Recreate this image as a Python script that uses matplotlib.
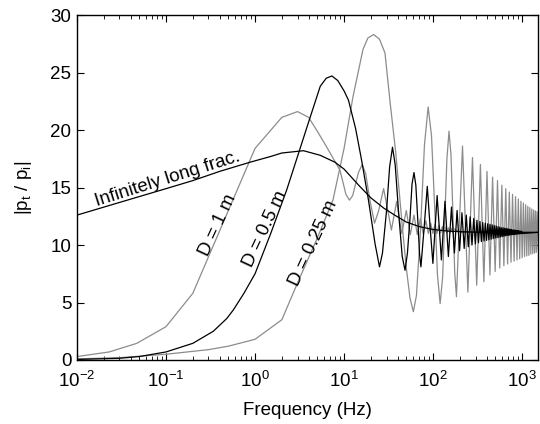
import numpy as np
import matplotlib
matplotlib.use('Agg')
import matplotlib.pyplot as plt

plt.rcParams['font.family'] = ['Liberation Sans', 'DejaVu Sans']

# infinitely long fracture (smooth black curve)
inf_f = [0.01, 0.03, 0.1, 0.2, 0.4, 0.88, 1.5, 2.0, 3.5, 5.4, 7.9, 10, 15, 20, 28, 37,
         50, 70, 100, 150, 300, 1520]
inf_v = [12.6, 13.7, 14.9, 15.6, 16.4, 17.2, 17.7, 18.0, 18.2, 17.8, 17.2, 16.6, 15.1, 14.1,
         13.2, 12.6, 12.0, 11.6, 11.35, 11.2, 11.12, 11.1]

# D = 1 m (gray)
d1_f = [0.01, 0.023, 0.047, 0.1, 0.2, 1.0, 2.0, 3.0, 4.0, 5.0, 6.4, 9.0, 10.5, 11.5, 12.5,
        14.5, 16, 17.5, 19.5, 22, 24.5, 27.8, 31, 34, 36.5, 39, 41.5, 44.5, 50, 55.5, 61,
        66.5, 72, 77.5, 83, 88.5, 94, 99.5, 105, 110.5, 116, 121.5, 127, 132.5, 138, 143.5,
        149, 154.5, 160, 165.5, 171, 200, 1520]
d1_v = [0.3, 0.7, 1.45, 2.9, 5.8, 18.4, 21.1, 21.6, 21.1, 19.9, 18.5, 16.5, 14.4, 13.9, 14.3,
        16.3, 17.0, 16.2, 13.9, 11.9, 13.0, 14.9, 13.0, 11.3, 12.6, 13.8, 12.4, 11.0, 13.0, 10.9, 12.6,
        10.9, 12.3, 10.95, 12.1, 11.0, 11.9, 11.0, 11.8, 11.0, 11.7, 11.05, 11.6, 11.05, 11.55, 11.05,
        11.5, 11.05, 11.45, 11.1, 11.4, 11.1, 11.1]

# D = 0.5 m (black), low frequencies and first oscillations
d05_f = [0.01, 0.03, 0.05, 0.1, 0.2, 0.34, 0.48, 0.57, 0.75, 1.0, 1.5, 2.27, 3.0, 4.0, 5.4,
         6.3, 7.3, 8.5, 10, 11.2, 13.5, 15.8, 18.8, 22.3, 25, 27, 30, 32.5, 35, 37.5, 41, 45,
         48.4, 51.5, 55, 58, 61, 64, 67.5, 70.5, 73, 79.5, 86, 92.5, 99.5, 111, 124, 136]
d05_v = [0.05, 0.15, 0.3, 0.7, 1.45, 2.5, 3.6, 4.35, 5.8, 7.5, 11.0, 14.8, 17.7, 20.7, 23.8,
         24.5, 24.7, 24.3, 23.4, 22.6, 20.1, 17.3, 13.9, 10.1, 8.1, 9.3, 13.0, 16.8, 18.5, 17.0, 12.8, 9.0,
         7.8, 9.3, 12.3, 15.3, 16.3, 15.2, 12.0, 9.2, 8.1, 11.6, 15.1, 11.6, 8.4, 14.3, 8.7, 13.8]
# D = 0.5 m, dense part: maxima and minima
d05_peak_f = [161, 186, 211, 236, 261, 286, 311, 336, 361, 386, 411, 436, 461, 486, 511, 536,
              561, 586, 611, 636, 661, 686, 711, 736, 761, 786, 811, 836, 861, 886, 911, 936,
              961, 986]
d05_peak_v = [13.3, 13.0, 12.8, 12.6, 12.45, 12.3, 12.15, 12.05, 11.95, 11.9, 11.85, 11.8, 11.75,
              11.7, 11.65, 11.6, 11.55, 11.5, 11.5, 11.45, 11.45, 11.4, 11.4, 11.35, 11.35, 11.3,
              11.3, 11.3, 11.25, 11.25, 11.25, 11.2, 11.2, 11.2]
d05_trough_f = [148.5, 173.5, 198.5, 223.5, 248.5, 273.5, 298.5, 323.5, 348.5, 373.5, 398.5,
                423.5, 448.5, 473.5, 498.5, 523.5, 548.5, 573.5, 598.5, 623.5, 648.5, 673.5,
                698.5, 723.5, 748.5, 773.5, 798.5, 823.5, 848.5, 873.5, 898.5, 923.5, 948.5,
                973.5, 998.5, 1520]
d05_trough_v = [9.0, 9.3, 9.5, 9.7, 9.85, 10.0, 10.1, 10.2, 10.3, 10.35, 10.4, 10.45, 10.5, 10.55,
                10.6, 10.63, 10.66, 10.7, 10.73, 10.76, 10.8, 10.82, 10.84, 10.86, 10.88, 10.9,
                10.92, 10.93, 10.94, 10.95, 10.96, 10.97, 10.98, 10.99, 11.0, 11.1]

# D = 0.25 m (gray), low frequencies and first oscillations
d025_f = [0.01, 0.03, 0.1, 0.3, 0.5, 1.0, 2.0, 3.0, 5.0, 7.5, 10, 12.6, 16.3, 18.5, 21.5, 25,
          28.8, 33, 38, 45, 50, 55, 60, 65, 72, 80, 88, 96, 104, 112, 120, 128, 135, 143, 151,
          159, 167, 175, 183]
d025_v = [0.1, 0.2, 0.5, 0.9, 1.2, 1.8, 3.5, 6.7, 10.6, 13.9, 18.4, 22.9, 27.0, 28.0, 28.3, 27.9,
          26.7, 22.3, 18.1, 11.7, 8.0, 5.4, 4.2, 5.6, 11.1, 18.7, 22.0, 19.5, 13.4, 7.4, 4.9, 7.2,
          12.0, 17.5, 19.9, 17.8, 12.7, 7.6, 5.5]
# D = 0.25 m, dense part
d025_peak_f = [214, 277, 340, 403, 466, 529, 592, 655, 718, 781, 844, 907, 970, 1033, 1096,
               1159, 1222, 1285, 1348, 1411, 1474]
d025_peak_v = [18.6, 17.6, 17.0, 16.4, 15.9, 15.6, 15.2, 14.9, 14.6, 14.4, 14.2, 14.0, 13.8,
               13.65, 13.5, 13.36, 13.25, 13.13, 13.04, 12.96, 12.9]
d025_trough_f = [246, 309, 372, 435, 498, 561, 624, 687, 750, 813, 876, 939, 1002, 1065, 1128,
                 1191, 1254, 1317, 1380, 1443, 1520]
d025_trough_v = [5.9, 6.5, 6.8, 7.4, 7.7, 8.0, 8.2, 8.35, 8.5, 8.6, 8.7, 8.8, 8.9, 9.0, 9.05,
                 9.1, 9.2, 9.25, 9.3, 9.35, 9.6]

xticks = [1e-2, 1e-1, 1e0, 1e1, 1e2, 1e3]
xtick_labels = [r'10$^{\mathregular{-2}}$', r'10$^{\mathregular{-1}}$', r'10$^{\mathregular{0}}$',
                r'10$^{\mathregular{1}}$', r'10$^{\mathregular{2}}$', r'10$^{\mathregular{3}}$']
yticks = [0, 5, 10, 15, 20, 25, 30]


def merge(f_lists, v_lists):
    f = np.concatenate([np.asarray(a, float) for a in f_lists])
    v = np.concatenate([np.asarray(a, float) for a in v_lists])
    order = np.argsort(f, kind='stable')
    return f[order], v[order]


gray = '0.55'
fs = 13.5
lw = 0.9

fig = plt.figure(figsize=(5.4, 4.24), dpi=100)
ax = fig.add_axes([77 / 540, 1 - 360 / 424, 461.3 / 540, 345 / 424])

f, v = merge([d1_f], [d1_v])
ax.plot(f, v, color=gray, lw=lw)
f, v = merge([d025_f, d025_peak_f, d025_trough_f], [d025_v, d025_peak_v, d025_trough_v])
ax.plot(f, v, color=gray, lw=lw)
f, v = merge([d05_f, d05_peak_f, d05_trough_f], [d05_v, d05_peak_v, d05_trough_v])
ax.plot(f, v, color='black', lw=lw)
ax.plot(inf_f, inf_v, color='black', lw=lw)

ax.set_xscale('log')
ax.set_xlim(0.01, 1520)
ax.set_ylim(0, 30)
ax.set_xticks(xticks)
ax.set_xticklabels(xtick_labels)
ax.set_yticks(yticks)
ax.tick_params(which='both', direction='in', top=True, right=True, labelsize=fs)
ax.tick_params(which='major', length=5, width=0.8)
ax.tick_params(which='minor', length=3, width=0.6)
ax.tick_params(axis='x', pad=7)
ax.tick_params(axis='y', pad=4)
for s in ax.spines.values():
    s.set_linewidth(1.0)

ax.set_xlabel('Frequency (Hz)', fontsize=fs, labelpad=8)
ax.set_ylabel(r'|p$_\mathregular{t}$ / p$_\mathregular{i}$|', fontsize=fs, labelpad=12)

ax.text(0.103, 15.7, 'Infinitely long frac.', rotation=17.5, fontsize=fs,
        ha='center', va='center', rotation_mode='anchor')
ax.text(0.38, 11.7, 'D = 1 m', rotation=65, fontsize=fs, ha='center', va='center',
        rotation_mode='anchor')
ax.text(1.3, 11.4, 'D = 0.5 m', rotation=65, fontsize=fs, ha='center', va='center',
        rotation_mode='anchor')
ax.text(4.5, 10.2, 'D = 0.25 m', rotation=65, fontsize=fs, ha='center', va='center',
        rotation_mode='anchor')

fig.savefig('out.png', dpi=100)
